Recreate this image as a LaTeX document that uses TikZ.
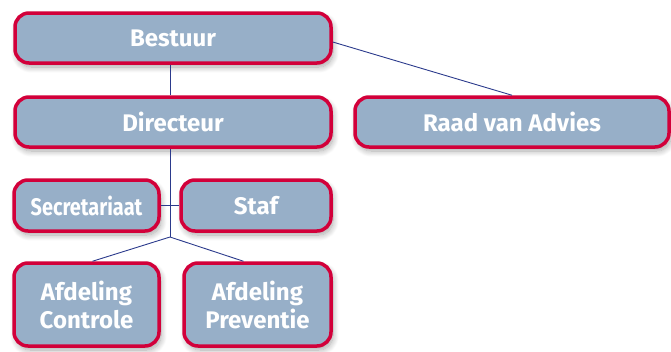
\documentclass[tikz,border=0pt]{standalone}
\usepackage{fontspec}
\setsansfont{Fira Sans}
\usetikzlibrary{shadows.blur}
\definecolor{boxblue}{HTML}{97AFC8}
\definecolor{boxred}{HTML}{D2003A}
\definecolor{linenavy}{HTML}{2B3A8C}
\begin{document}
\begin{tikzpicture}[x=1pt, y=-1pt,
    orgbox/.style={draw=boxred, fill=boxblue, line width=3.5pt, rounded corners=14pt,
      text=white, font=\sffamily\bfseries\fontsize{24}{28}\selectfont, align=center,
      inner sep=0pt, minimum height=50pt,
      blur shadow={shadow xshift=2pt, shadow yshift=-4pt, shadow blur steps=10,
        shadow blur radius=6pt, shadow opacity=35}},
    orgline/.style={draw=linenavy, line width=0.9pt}]
    \useasboundingbox (0,0) rectangle (671,351);
    % Helper points for the tree
    \coordinate (spine) at (170,0);
    \coordinate (split) at (170,237);
    % Boxes
    \node[orgbox, minimum width=316pt] (bestuur) at (173,38) {Bestuur};
    \node[orgbox, minimum width=316pt] (directeur) at (173,122) {Directeur};
    \node[orgbox, minimum width=314pt] (raad) at (512,122) {Raad van Advies};
    \node[orgbox, minimum width=145pt, minimum height=51pt] (secretariaat) at (86.5,205.5) {\scalebox{0.83}[1]{Secretariaat}};
    \node[orgbox, minimum width=150pt, minimum height=51pt] (staf) at (256,205.5) {Staf};
    \node[orgbox, minimum width=145pt, minimum height=83pt] (controle) at (86.5,304.5) {Afdeling\\Controle};
    \node[orgbox, minimum width=147pt, minimum height=83pt] (preventie) at (257.5,304.5) {Afdeling\\Preventie};
    % Lines
    \draw[orgline] (bestuur.south -| spine) -- (directeur.north -| spine);
    \draw[orgline] (directeur.south -| spine) -- (split);
    \draw[orgline] (secretariaat.east) -- (staf.west);
    \draw[orgline] (split) -- ([xshift=6pt]controle.north);
    \draw[orgline] (split) -- ([xshift=-14pt]preventie.north);
    \draw[orgline] ([yshift=-4pt]bestuur.east) -- (raad.north);
\end{tikzpicture}
\end{document}
